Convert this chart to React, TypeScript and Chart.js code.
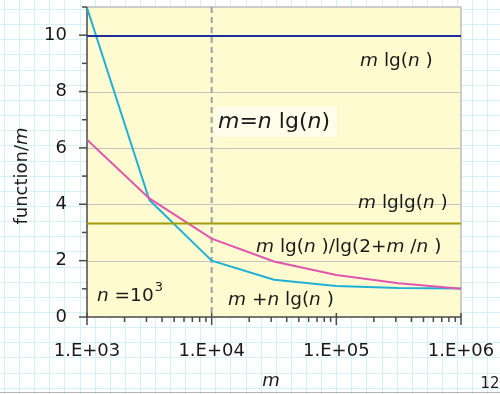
import React, { useEffect, useRef } from 'react';
import { Chart, registerables } from 'chart.js';
Chart.register(...registerables);

// ---- data ----
const mValues = [1000, 3162, 10000, 31623, 100000, 316228, 1000000];
const mLgN = [9.97, 9.97, 9.97, 9.97, 9.97, 9.97, 9.97];
const mLgLgN = [3.32, 3.32, 3.32, 3.32, 3.32, 3.32, 3.32];
const mLgNOverLg = [6.29, 4.21, 2.78, 1.97, 1.49, 1.2, 1.0];
const mPlusNLgN = [10.97, 4.15, 2.0, 1.32, 1.1, 1.03, 1.01];
const xTickDecades = [1000, 10000, 100000, 1000000];
const xTickLabels = ['1.E+03', '1.E+04', '1.E+05', '1.E+06'];
const yTickLabels = ['0', '2', '4', '6', '8', '10'];
const dashedAt = 10000;

const FONT = '"DejaVu Sans", Verdana, sans-serif';

type Seg = [string, boolean];

function segWidth(ctx: CanvasRenderingContext2D, segs: Seg[], size: number) {
  let w = 0;
  for (const [t, it] of segs) {
    ctx.font = `${it ? 'italic ' : ''}${size}px ${FONT}`;
    w += ctx.measureText(t).width;
  }
  return w;
}

function drawRich(ctx: CanvasRenderingContext2D, segs: Seg[], x: number, y: number, size: number, align: 'left' | 'center' = 'left') {
  let cx = x;
  if (align === 'center') cx = x - segWidth(ctx, segs, size) / 2;
  ctx.textBaseline = 'middle';
  ctx.textAlign = 'left';
  for (const [t, it] of segs) {
    ctx.font = `${it ? 'italic ' : ''}${size}px ${FONT}`;
    ctx.fillText(t, cx, y);
    cx += ctx.measureText(t).width;
  }
  return cx;
}

const zeroPad = (s: any) => {
  s.paddingTop = 0;
  s.paddingBottom = 0;
  s.paddingLeft = 0;
  s.paddingRight = 0;
};

const decorPlugin = {
  id: 'decor',
  beforeDraw(chart: any) {
    const ctx: CanvasRenderingContext2D = chart.ctx;
    const W = chart.width, H = chart.height;
    ctx.save();
    ctx.fillStyle = '#ffffff';
    ctx.fillRect(0, 0, W, H);
    ctx.strokeStyle = '#d3f1f6';
    ctx.lineWidth = 1;
    for (let x = 4; x < W; x += 15.1) {
      ctx.beginPath(); ctx.moveTo(Math.round(x) + 0.5, 0); ctx.lineTo(Math.round(x) + 0.5, H); ctx.stroke();
    }
    for (let y = 9; y < H; y += 15.15) {
      ctx.beginPath(); ctx.moveTo(0, Math.round(y) + 0.5); ctx.lineTo(W, Math.round(y) + 0.5); ctx.stroke();
    }
    ctx.strokeStyle = '#b4b4b4';
    ctx.beginPath(); ctx.moveTo(0, 392.5); ctx.lineTo(W, 392.5); ctx.stroke();
    const a = chart.chartArea;
    ctx.fillStyle = '#fefbd0';
    ctx.fillRect(a.left, a.top, a.right - a.left, a.bottom - a.top);
    ctx.restore();
  },
  beforeDatasetsDraw(chart: any) {
    const ctx: CanvasRenderingContext2D = chart.ctx;
    const a = chart.chartArea;
    const xs = chart.scales.x, ys = chart.scales.y;
    ctx.save();
    ctx.strokeStyle = '#c4c4c4';
    ctx.lineWidth = 1;
    for (let v = 2; v <= 10; v += 2) {
      const py = Math.round(ys.getPixelForValue(v)) + 0.5;
      ctx.beginPath(); ctx.moveTo(a.left, py); ctx.lineTo(a.right, py); ctx.stroke();
    }
    ctx.strokeStyle = '#bdbdbd';
    ctx.lineWidth = 1.5;
    ctx.beginPath();
    ctx.moveTo(a.left, a.top); ctx.lineTo(a.right, a.top); ctx.lineTo(a.right, a.bottom);
    ctx.stroke();
    const dx = xs.getPixelForValue(dashedAt);
    ctx.strokeStyle = '#a0a0a0';
    ctx.lineWidth = 2;
    ctx.setLineDash([6, 4]);
    ctx.beginPath(); ctx.moveTo(dx, a.top); ctx.lineTo(dx, a.bottom); ctx.stroke();
    ctx.setLineDash([]);
    ctx.strokeStyle = '#4a4a4a';
    ctx.lineWidth = 1.5;
    ctx.beginPath(); ctx.moveTo(a.left, a.top); ctx.lineTo(a.left, a.bottom); ctx.lineTo(a.right, a.bottom); ctx.stroke();
    for (let v = 0; v <= 11; v++) {
      const py = ys.getPixelForValue(v);
      const major = v % 2 === 0;
      ctx.beginPath();
      ctx.moveTo(a.left - (major ? 8 : 5), py);
      ctx.lineTo(a.left, py);
      ctx.stroke();
    }
    for (let e = 3; e <= 6; e++) {
      for (let k = 1; k <= 9; k++) {
        const v = k * Math.pow(10, e);
        if (v > 1000000) break;
        const px = xs.getPixelForValue(v);
        const major = k === 1;
        ctx.beginPath();
        ctx.moveTo(px, a.bottom - (major ? 4 : 0));
        ctx.lineTo(px, a.bottom + (major ? 8 : 5));
        ctx.stroke();
      }
    }
    ctx.restore();
  },
  afterDraw(chart: any) {
    const ctx: CanvasRenderingContext2D = chart.ctx;
    ctx.save();
    ctx.fillStyle = '#1a1a1a';
    const S = 18.5;
    drawRich(ctx, [['m', true], [' lg(', false], ['n', true], [' )', false]], 360, 61, S);
    ctx.fillStyle = '#fffde9';
    ctx.fillRect(214, 107, 123, 30);
    ctx.fillStyle = '#1a1a1a';
    drawRich(ctx, [['m', true], ['=', false], ['n', true], [' lg(', false], ['n', true], [')', false]], 218, 122, 22);
    drawRich(ctx, [['m', true], [' lglg(', false], ['n', true], [' )', false]], 358, 203, S);
    drawRich(ctx, [['m', true], [' lg(', false], ['n', true], [' )/lg(2+', false], ['m', true], [' /', false], ['n', true], [' )', false]], 256, 247, S);
    drawRich(ctx, [['m', true], [' +', false], ['n', true], [' lg(', false], ['n', true], [' )', false]], 228, 300, S);
    const ex = drawRich(ctx, [['n', true], [' =10', false]], 97, 296, S);
    ctx.font = `13px ${FONT}`;
    ctx.fillText('3', ex + 1, 288);
    drawRich(ctx, [['m', true]], 271, 381, 18, 'center');
    ctx.save();
    ctx.translate(22, 176);
    ctx.rotate(-Math.PI / 2);
    drawRich(ctx, [['function/', false], ['m', true]], 0, 0, 18, 'center');
    ctx.restore();
    ctx.font = `15px ${FONT}`;
    ctx.textAlign = 'center';
    ctx.textBaseline = 'middle';
    ctx.fillText('12', 490, 384);
    ctx.restore();
  },
};

function toPts(ys: number[]) {
  return mValues.map((x, i) => ({ x, y: ys[i] }));
}

export default function App() {
  const ref = useRef<HTMLCanvasElement | null>(null);
  useEffect(() => {
    if (!ref.current) return;
    const mk = (data: number[], color: string) => ({
      data: toPts(data),
      borderColor: color,
      backgroundColor: color,
      borderWidth: 2,
      pointRadius: 0,
      tension: 0,
      fill: false,
    });
    const chart = new Chart(ref.current, {
      type: 'line',
      data: {
        datasets: [
          mk(mLgN, '#1c2f9c'),
          mk(mLgLgN, '#a29c0c'),
          mk(mLgNOverLg, '#e055b0'),
          mk(mPlusNLgN, '#1fb0d8'),
        ],
      },
      options: {
        responsive: false,
        animation: false,
        layout: { padding: { top: 7, right: 39, left: 0, bottom: 0 } },
        plugins: { legend: { display: false }, tooltip: { enabled: false } },
        scales: {
          x: {
            type: 'logarithmic',
            min: 1000,
            max: 1000000,
            grid: { display: false },
            border: { display: false },
            afterFit: (s: any) => { s.height = 77; zeroPad(s); },
            ticks: {
              autoSkip: false,
              maxRotation: 0,
              minRotation: 0,
              padding: 16,
              color: '#1a1a1a',
              font: { family: FONT, size: 18 },
              callback: (v: any) => {
                const i = xTickDecades.indexOf(Number(v));
                return i >= 0 ? xTickLabels[i] : '';
              },
            },
          },
          y: {
            min: 0,
            max: 11,
            grid: { display: false },
            border: { display: false },
            afterFit: (s: any) => { s.width = 87; zeroPad(s); },
            ticks: {
              stepSize: 2,
              includeBounds: false,
              padding: 12,
              color: '#1a1a1a',
              font: { family: FONT, size: 18 },
              callback: (v: any) => {
                const n = Number(v);
                return n % 2 === 0 && n <= 10 ? yTickLabels[n / 2] : '';
              },
            },
          },
        },
      },
      plugins: [decorPlugin],
    } as any);
    return () => chart.destroy();
  }, []);
  return (
    <div style={{ position: 'fixed', left: 0, top: 0, width: 500, height: 394 }}>
      <canvas ref={ref} width={500} height={394} style={{ display: 'block' }} />
    </div>
  );
}
